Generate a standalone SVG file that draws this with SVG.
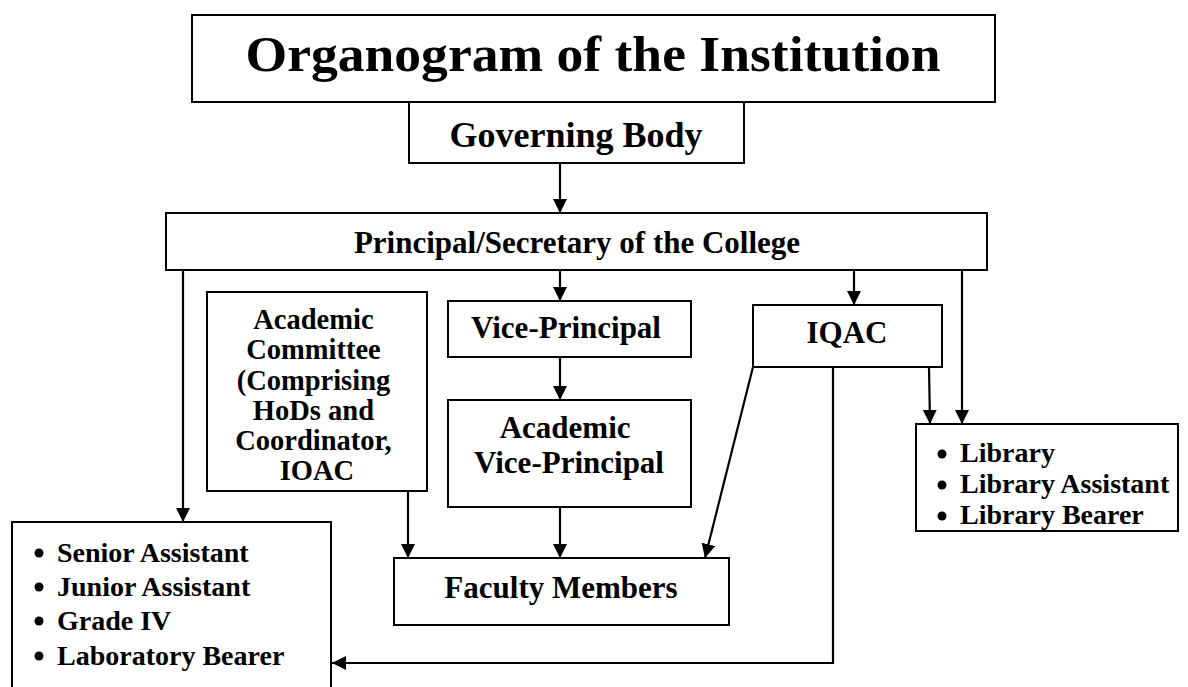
<svg xmlns="http://www.w3.org/2000/svg" width="1188" height="687" viewBox="0 0 1188 687">
  <style>
    .box { fill: #ffffff; stroke: #000000; stroke-width: 2; }
    .lbl { font-family: "Liberation Serif", "Times New Roman", serif; font-weight: bold; fill: #000000; }
    .mid { text-anchor: middle; }
    .wire { fill: none; stroke: #000000; stroke-width: 2.2; }
    .dot { fill: #000000; }
  </style>
  <defs>
    <marker id="arrow" markerUnits="userSpaceOnUse" markerWidth="15" markerHeight="15" refX="14" refY="7" orient="auto">
      <path d="M0,0 L14,7 L0,14 Z" fill="#000000"/>
    </marker>
  </defs>
  <rect width="1188" height="687" fill="#ffffff"/>

  <!-- connectors -->
  <g id="connectors">
    <line class="wire" x1="560" y1="163" x2="560" y2="213" marker-end="url(#arrow)"/>
    <line class="wire" x1="560" y1="270" x2="560" y2="301" marker-end="url(#arrow)"/>
    <line class="wire" x1="560" y1="357" x2="560" y2="400" marker-end="url(#arrow)"/>
    <line class="wire" x1="560" y1="507" x2="560" y2="558" marker-end="url(#arrow)"/>
    <line class="wire" x1="854" y1="270" x2="854" y2="305" marker-end="url(#arrow)"/>
    <line class="wire" x1="962" y1="270" x2="962" y2="424" marker-end="url(#arrow)"/>
    <line class="wire" x1="929" y1="367" x2="930" y2="424" marker-end="url(#arrow)"/>
    <line class="wire" x1="183" y1="270" x2="183" y2="522" marker-end="url(#arrow)"/>
    <line class="wire" x1="408" y1="491" x2="408" y2="558" marker-end="url(#arrow)"/>
    <line class="wire" x1="753" y1="367" x2="705" y2="558" marker-end="url(#arrow)"/>
    <polyline class="wire" points="833,367 833,663 332,663" marker-end="url(#arrow)"/>
  </g>

  <!-- title -->
  <g id="title">
    <rect class="box" x="192" y="15" width="803" height="87"/>
    <text class="lbl mid" x="593" y="71" font-size="50" textLength="695" lengthAdjust="spacingAndGlyphs">Organogram of the Institution</text>
  </g>

  <!-- governing body -->
  <g id="governing-body">
    <rect class="box" x="409" y="102" width="335" height="61"/>
    <text class="lbl mid" x="576" y="147" font-size="36">Governing Body</text>
  </g>

  <!-- principal -->
  <g id="principal">
    <rect class="box" x="166" y="213" width="821" height="57"/>
    <text class="lbl mid" x="577" y="253" font-size="31">Principal/Secretary of the College</text>
  </g>

  <!-- academic committee -->
  <g id="academic-committee">
    <rect class="box" x="207" y="292" width="220" height="199"/>
    <text class="lbl mid" font-size="28.5">
      <tspan x="317" y="329">Academic</tspan>
      <tspan x="317" y="359">Committee</tspan>
      <tspan x="317" y="390">(Comprising</tspan>
      <tspan x="317" y="420">HoDs and</tspan>
      <tspan x="317" y="450">Coordinator,</tspan>
      <tspan x="317" y="480">IOAC</tspan>
    </text>
  </g>

  <!-- vice-principal -->
  <g id="vice-principal">
    <rect class="box" x="448" y="301" width="243" height="56"/>
    <text class="lbl mid" x="566" y="338" font-size="31">Vice-Principal</text>
  </g>

  <!-- academic vice-principal -->
  <g id="academic-vice-principal">
    <rect class="box" x="448" y="400" width="243" height="107"/>
    <text class="lbl mid" font-size="31">
      <tspan x="569" y="438">Academic</tspan>
      <tspan x="569" y="473">Vice-Principal</tspan>
    </text>
  </g>

  <!-- IQAC -->
  <g id="iqac">
    <rect class="box" x="753" y="305" width="189" height="62"/>
    <text class="lbl mid" x="847" y="343" font-size="31">IQAC</text>
  </g>

  <!-- faculty members -->
  <g id="faculty-members">
    <rect class="box" x="394" y="558" width="335" height="67"/>
    <text class="lbl mid" x="561" y="598" font-size="31">Faculty Members</text>
  </g>

  <!-- library -->
  <g id="library">
    <rect class="box" x="916" y="424" width="262" height="107"/>
    <circle class="dot" cx="942" cy="454" r="4.5"/>
    <circle class="dot" cx="942" cy="485" r="4.5"/>
    <circle class="dot" cx="942" cy="516" r="4.5"/>
    <text class="lbl" font-size="28">
      <tspan x="960" y="462">Library</tspan>
      <tspan x="960" y="493">Library Assistant</tspan>
      <tspan x="960" y="524">Library Bearer</tspan>
    </text>
  </g>

  <!-- office staff -->
  <g id="office-staff">
    <rect class="box" x="12" y="522" width="319" height="180"/>
    <circle class="dot" cx="39" cy="553" r="4.5"/>
    <circle class="dot" cx="39" cy="587" r="4.5"/>
    <circle class="dot" cx="39" cy="621" r="4.5"/>
    <circle class="dot" cx="39" cy="656" r="4.5"/>
    <text class="lbl" font-size="28">
      <tspan x="57" y="562">Senior Assistant</tspan>
      <tspan x="57" y="596">Junior Assistant</tspan>
      <tspan x="57" y="630">Grade IV</tspan>
      <tspan x="57" y="665">Laboratory Bearer</tspan>
    </text>
  </g>
</svg>
